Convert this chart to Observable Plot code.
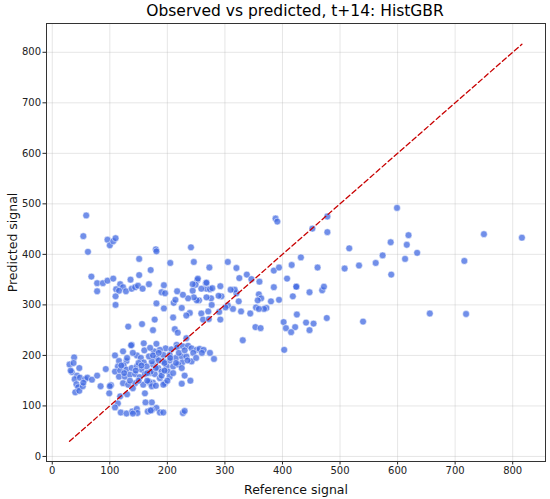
<!DOCTYPE html>
<html>
<head>
<meta charset="utf-8">
<script src="https://cdn.jsdelivr.net/npm/d3@7"></script>
<script src="https://cdn.jsdelivr.net/npm/@observablehq/plot@0.6"></script>
<style>
  html, body { margin: 0; padding: 0; background: #fff; }
  body { width: 550px; height: 499px; overflow: hidden; font-family: "DejaVu Sans", sans-serif; }
  #title { height: 22px; line-height: 22px; font-size: 15.5px; color: #000; text-align: center; padding-left: 40px; white-space: nowrap; }
</style>
</head>
<body>
<div id="title">Observed vs predicted, t+14: HistGBR</div>
<div id="chart"></div>
<script>
const titleText = "Observed vs predicted, t+14: HistGBR";
const xLabel = "Reference signal";
const yLabel = "Predicted signal";
const ticks = [0, 100, 200, 300, 400, 500, 600, 700, 800];

const reference = [
  59,54,62,96,100,106,110,180,181,151,205,171,151,136,68,78,88,96,106,118,123,111,116,128,138,144,149,157,168,194,78,110,110,181,190,196,194,211,
  388,391,241,246,305,273,320,338,325,346,385,394,408,424,385,360,394,418,380,359,363,357,372,368,354,344,359,328,324,320,317,310,314,305,301,292,294,289,276,277,271,268,268,274,278,267,268,259,252,249,244,244,253,255,251,246,236,227,217,214,225,239,233,259,262,272,290,292,210,213,353,362,402,406,422,425,
  132,156,178,175,218,138,216,331,403,
  599,478,452,478,619,588,616,634,574,613,516,432,416,461,508,533,562,589,424,447,469,472,477,441,454,447,415,540,
  750,716,656,719,816,
  233,181,197,187,177,207,217,227,236,242,251,256,263,274,281,193,204,215,225,233,242,226,204,193,181,175,184,199,210,219,170,178,190,201,204,187,196,193,175,170,225,181,173,187,193,227,230,173,
  38,30,37,47,34,32,43,39,48,57,61,69,78,42,45,40,47,53,54,84,102,93,109,116,123,137,159,147,154,159,129,124,114,109,118,129,138,147,155,164,173,168,116,126,135,144,152,161,171,123,132,144,158,168,173,161,118,114,130,109,119,129,139,147,148,140,162,166,171,100,99,
  130,140,150,160,175,185,195,205,220,230,145,155,165,180,190,200,210,225,235,245,120,135,150,165,180,195,215,230,240,250,260,125,140,185,170
];
const predicted = [
  477,436,405,429,418,426,432,410,406,391,383,369,359,350,356,343,343,348,352,341,335,331,328,327,332,335,338,332,341,339,327,317,300,303,325,323,293,304,
  471,465,414,385,385,374,373,360,353,351,368,374,352,336,335,346,310,317,307,321,313,309,294,292,295,283,292,287,307,323,330,330,292,299,295,337,317,318,313,300,287,315,332,331,333,343,344,332,349,340,328,341,352,309,309,315,313,320,327,310,294,284,279,283,271,272,286,271,275,252,256,254,266,254,256,281,
  257,262,271,250,245,221,221,230,211,
  492,475,451,444,438,424,419,403,398,391,412,394,379,374,372,378,383,360,336,325,329,336,274,265,263,250,246,267,
  440,387,283,282,433,
  234,223,214,211,208,212,216,218,219,214,211,213,211,205,193,201,201,195,198,198,188,186,190,188,195,182,175,178,178,182,165,163,168,168,158,155,145,142,146,145,144,96,92,87,87,86,90,107,
  196,182,185,175,167,170,160,153,156,153,156,152,160,143,137,127,130,139,146,139,141,173,200,189,208,220,224,200,195,186,189,180,178,168,170,172,175,178,172,178,188,198,158,158,162,163,157,163,168,145,142,145,142,148,139,125,119,105,123,97,87,85,89,94,86,85,107,89,91,139,125,
  195,205,185,210,200,205,185,195,205,210,170,180,165,175,160,150,165,175,190,205,180,150,150,150,140,170,185,160,150,195,205,165,135,190,215
];

const points = reference.map((r, i) => ({ reference: r, predicted: predicted[i] }));
const lo = Math.min(d3.min(reference), d3.min(predicted));
const hi = Math.max(d3.max(reference), d3.max(predicted));
const diag = [{ v: lo }, { v: hi }];

document.getElementById("title").textContent = titleText;

const chart = Plot.plot({
  width: 550,
  height: 477,
  marginLeft: 46,
  marginRight: 5,
  marginTop: 1,
  marginBottom: 38,
  style: { fontFamily: "DejaVu Sans, sans-serif", fontSize: "10px", color: "#222", background: "#fff" },
  x: { domain: [-10, 857] },
  y: { domain: [-10, 857] },
  marks: [
    Plot.gridX(ticks, { stroke: "#b0b0b0", strokeOpacity: 0.4, strokeWidth: 0.8 }),
    Plot.gridY(ticks, { stroke: "#b0b0b0", strokeOpacity: 0.4, strokeWidth: 0.8 }),
    Plot.dot(points, { x: "reference", y: "predicted", r: 3.4, fill: "#4169e1", fillOpacity: 0.75, stroke: "#fff", strokeWidth: 0.5 }),
    Plot.line(diag, { x: "v", y: "v", stroke: "#c80000", strokeWidth: 1.3, strokeDasharray: "5,3" }),
    Plot.axisX(ticks, { tickSize: 3.5, tickPadding: 2, fontSize: 10, label: null }),
    Plot.axisY(ticks, { tickSize: 3.5, tickPadding: 2, fontSize: 10, label: null }),
    Plot.axisX([], { tickSize: 0, fontSize: 12.5, label: xLabel, labelAnchor: "center", labelArrow: "none", labelOffset: 32, fill: "#111" }),
    Plot.axisY([], { tickSize: 0, fontSize: 12.5, label: yLabel, labelAnchor: "center", labelArrow: "none", labelOffset: 38, fill: "#111" }),
    Plot.frame({ stroke: "#333", strokeWidth: 1 })
  ]
});
document.getElementById("chart").appendChild(chart);
</script>
</body>
</html>
